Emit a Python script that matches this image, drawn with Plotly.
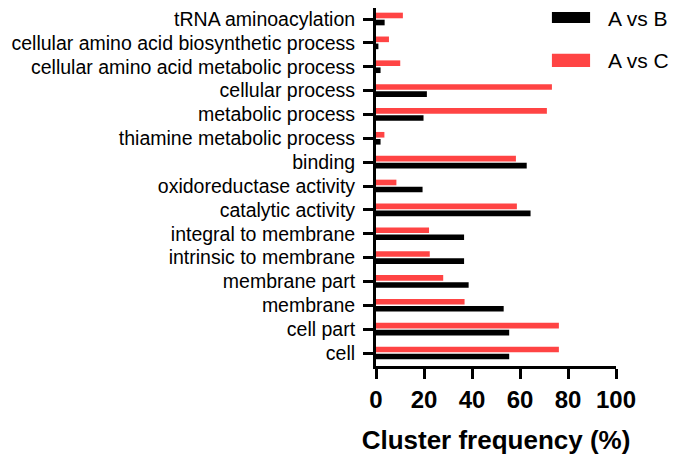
import plotly.graph_objects as go

categories = ["tRNA aminoacylation", "cellular amino acid biosynthetic process",
              "cellular amino acid metabolic process", "cellular process",
              "metabolic process", "thiamine metabolic process", "binding",
              "oxidoreductase activity", "catalytic activity",
              "integral to membrane", "intrinsic to membrane", "membrane part",
              "membrane", "cell part", "cell"]
a_vs_c = [11.2, 5.4, 10.1, 73.3, 71.2, 3.5, 58.3, 8.5, 58.7,
          22.1, 22.4, 28.0, 36.9, 76.2, 76.2]
a_vs_b = [3.6, 1.0, 1.9, 21.2, 19.8, 1.9, 62.8, 19.4, 64.4,
          36.7, 36.7, 38.6, 53.2, 55.5, 55.5]
x_ticks = [0, 20, 40, 60, 80, 100]

RED = "#ff4444"
BLACK = "#000000"

fig = go.Figure()
fig.add_trace(go.Bar(y=categories, x=a_vs_c, orientation="h", name="A vs C",
                     marker=dict(color=RED, line=dict(width=0))))
fig.add_trace(go.Bar(y=categories, x=a_vs_b, orientation="h", name="A vs B",
                     marker=dict(color=BLACK, line=dict(width=0))))

fig.update_layout(
    width=685, height=461,
    margin=dict(l=368, r=77, t=0, b=103, autoexpand=False),
    barmode="group", bargap=0.41, bargroupgap=0.2,
    plot_bgcolor="white", paper_bgcolor="white",
    showlegend=False,
    font=dict(family="Liberation Sans", color="black"),
)
fig.update_xaxes(range=[0, 100], tickvals=x_ticks, showgrid=False, zeroline=False,
                 showline=True, linecolor="black", linewidth=3,
                 ticks="outside", ticklen=10, tickwidth=3, tickcolor="black",
                 tickfont=dict(size=24, weight="bold"),
                 title=dict(text="Cluster frequency (%)", standoff=20,
                            font=dict(size=26, weight="bold")))
# categories top to bottom; top of the range nudged so the axis runs to the edge
fig.update_yaxes(range=[14.545, -0.461], showgrid=False, zeroline=False,
                 showline=True, linecolor="black", linewidth=3,
                 ticks="outside", ticklen=10, tickwidth=3, tickcolor="black",
                 ticklabelstandoff=4, tickfont=dict(size=19.5))

# legend drawn by hand: wide swatches next to the labels
for name, color, y0, y1, ty in [("A vs B", BLACK, 0.958, 0.989, 0.972),
                                ("A vs C", RED, 0.835, 0.872, 0.852)]:
    fig.add_shape(type="rect", xref="paper", yref="paper",
                  x0=0.733, x1=0.892, y0=y0, y1=y1,
                  fillcolor=color, line=dict(width=0))
    fig.add_annotation(xref="paper", yref="paper", x=0.983, y=ty,
                       text=name, showarrow=False, xanchor="left", yanchor="middle",
                       xshift=-6, font=dict(size=21))

fig.write_html("out.html")
